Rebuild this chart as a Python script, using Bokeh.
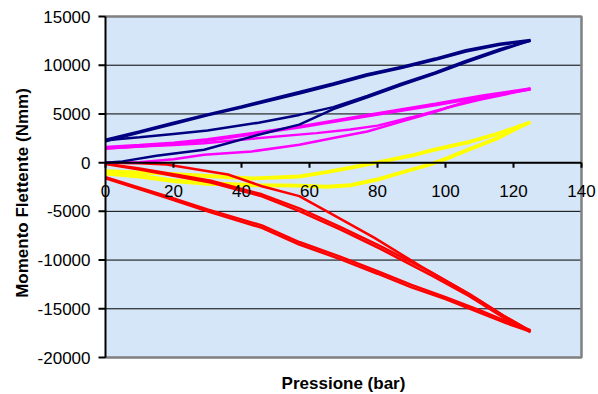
import math
from bokeh.plotting import figure
from bokeh.models import Range1d
from bokeh.core.properties import value
from bokeh.embed import file_html
from bokeh.resources import INLINE

# ---- tick values ----
x_ticks = [0, 20, 40, 60, 80, 100, 120, 140]
y_ticks = [-20000, -15000, -10000, -5000, 0, 5000, 10000, 15000]
x_tick_labels = [str(t) for t in x_ticks]
y_tick_labels = [str(t) for t in y_ticks]
x_title = "Pressione (bar)"
y_title = "Momento Flettente (Nmm)"

# ---- navy series (pressure in bar, moment in Nmm) ----
navy_load1_p = [0, 5, 15, 29, 45, 57, 67, 77, 87, 97, 106, 116, 125]
navy_load1_m = [0, 130, 700, 1330, 2860, 3900, 5500, 6700, 7960, 9150, 10300, 11500, 12550]
navy_unload1_p = [125, 116, 106, 97, 87, 77, 67, 57, 40, 30, 20, 10, 0]
navy_unload1_m = [12600, 12210, 11530, 10680, 9830, 9080, 8130, 7250, 5770, 4950, 4100, 3200, 2350]
navy_load2_p = [0, 10, 20, 30, 45, 57, 67, 77, 87, 97, 106, 116, 125]
navy_load2_m = [2300, 2600, 2950, 3300, 4100, 4900, 5700, 6850, 8100, 9250, 10450, 11650, 12500]
navy_unload2_p = [125, 116, 106, 97, 87, 77, 67, 57, 40, 30, 20, 10, 0]
navy_unload2_m = [12500, 12100, 11400, 10550, 9700, 8950, 8000, 7100, 5650, 4850, 3950, 3100, 2200]

# ---- magenta series ----
mag_load1_p = [0, 10, 20, 29, 43, 57, 67, 77, 87, 97, 106, 116, 125]
mag_load1_m = [0, 50, 350, 800, 1150, 1840, 2520, 3200, 4210, 5230, 6250, 6940, 7600]
mag_unload1_p = [125, 111, 97, 77, 57, 43, 30, 20, 10, 0]
mag_unload1_m = [7600, 6900, 6050, 4900, 3700, 3030, 2400, 2050, 1800, 1600]
mag_load2_p = [0, 10, 20, 29, 43, 62, 72, 80, 90, 100, 110, 125]
mag_load2_m = [1450, 1650, 1800, 2000, 2450, 3030, 3400, 3800, 4650, 5600, 6450, 7550]
mag_unload2_p = [125, 111, 97, 77, 57, 43, 30, 20, 10, 0]
mag_unload2_m = [7500, 6750, 5900, 4750, 3600, 2900, 2250, 1900, 1650, 1450]

# ---- yellow series ----
yel_load1_p = [0, 10, 20, 30, 45, 57, 65, 72, 80, 88, 96, 100, 107, 115, 125]
yel_load1_m = [-1200, -1500, -1950, -2250, -2400, -2420, -2550, -2400, -1800, -1000, -200, 300, 1300, 2400, 4150]
yel_unload1_p = [125, 115, 107, 96, 90, 80, 72, 65, 57, 43, 30, 15, 0]
yel_unload1_m = [4200, 3000, 2200, 1350, 800, 100, -450, -900, -1350, -1560, -1300, -1000, -800]
yel_load2_p = [0, 10, 20, 30, 45, 57, 65, 72, 80, 88, 96, 100, 107, 115, 125]
yel_load2_m = [-1000, -1300, -1750, -2050, -2250, -2300, -2400, -2250, -1650, -850, -50, 450, 1450, 2550, 4100]
yel_unload2_p = [125, 115, 107, 96, 90, 80, 72, 65, 57, 43, 30, 15, 0]
yel_unload2_m = [4100, 2850, 2050, 1200, 650, -50, -600, -1050, -1500, -1700, -1450, -1150, -1000]

# ---- red series ----
red_a_p = [0, 10, 18, 36, 46, 57, 65, 79, 93, 107, 117, 125]
red_a_m = [0, -50, -200, -1220, -2420, -3440, -4970, -7690, -10700, -13500, -15700, -17300]
red_b_p = [0, 10, 20, 31, 46, 57, 69, 81, 96, 107, 117, 125]
red_b_m = [-150, -714, -1350, -2040, -3450, -4970, -6840, -8880, -11600, -13700, -15900, -17400]
red_b2_p = [0, 10, 20, 31, 46, 57, 69, 81, 96, 107, 117, 125]
red_b2_m = [-100, -600, -1200, -1850, -3250, -4700, -6600, -8600, -11300, -13500, -15700, -17300]
red_c_p = [0, 18, 30, 46, 57, 69, 80, 90, 100, 110, 118, 125]
red_c_m = [-1600, -3600, -5000, -6700, -8400, -9900, -11400, -12800, -14000, -15400, -16500, -17350]
red_c2_p = [0, 18, 30, 46, 57, 69, 80, 90, 100, 110, 118, 125]
red_c2_m = [-1500, -3450, -4800, -6450, -8150, -9650, -11150, -12550, -13800, -15150, -16300, -17200]

FONT = "Liberation Sans"
W, H = 598, 394
# plot-area margins in pixels
ML, MR, MT, MB = 105, 17, 16, 37
XMIN, XMAX = x_ticks[0], x_ticks[-1]
YMIN, YMAX = y_ticks[0], y_ticks[-1]
kx = (W - ML - MR) / (XMAX - XMIN)      # px per bar
ky = (H - MT - MB) / (YMAX - YMIN)      # px per Nmm

p = figure(width=W, height=H, output_backend="svg", toolbar_location=None,
           x_axis_type=None, y_axis_type=None, min_border=0,
           x_range=Range1d(XMIN - ML / kx, XMAX + MR / kx),
           y_range=Range1d(YMIN - MB / ky, YMAX + MT / ky))
p.outline_line_color = None
p.background_fill_color = "white"
p.border_fill_color = "white"
p.grid.visible = False

# plot area background
p.quad(left=[XMIN], right=[XMAX], bottom=[YMIN], top=[YMAX],
       fill_color="#d5e6f8", line_color=None)

# horizontal grid lines
p.segment(x0=[XMIN] * len(y_ticks), x1=[XMAX] * len(y_ticks), y0=y_ticks, y1=y_ticks,
          line_color="black", line_width=1)

# grey frame on top, right and bottom
p.line([XMIN, XMAX, XMAX, XMIN], [YMAX, YMAX, YMIN, YMIN], line_color="#808080", line_width=2.5)

# data lines
LW = 2.5
for px_, my_ in [(yel_load1_p, yel_load1_m), (yel_unload1_p, yel_unload1_m),
                 (yel_load2_p, yel_load2_m), (yel_unload2_p, yel_unload2_m)]:
    p.line(px_, my_, line_color="#ffff00", line_width=LW)
for px_, my_ in [(red_a_p, red_a_m), (red_b_p, red_b_m), (red_b2_p, red_b2_m),
                 (red_c_p, red_c_m), (red_c2_p, red_c2_m)]:
    p.line(px_, my_, line_color="#ff0000", line_width=LW)
for px_, my_ in [(mag_load1_p, mag_load1_m), (mag_unload1_p, mag_unload1_m),
                 (mag_load2_p, mag_load2_m), (mag_unload2_p, mag_unload2_m)]:
    p.line(px_, my_, line_color="#ff00ff", line_width=LW)
for px_, my_ in [(navy_load1_p, navy_load1_m), (navy_unload1_p, navy_unload1_m),
                 (navy_load2_p, navy_load2_m), (navy_unload2_p, navy_unload2_m)]:
    p.line(px_, my_, line_color="#000080", line_width=LW)

# y axis: line, outward ticks, labels
p.segment(x0=[XMIN], x1=[XMIN], y0=[YMIN], y1=[YMAX], line_color="black", line_width=2)
p.segment(x0=[XMIN] * len(y_ticks), x1=[XMIN - 7 / kx] * len(y_ticks), y0=y_ticks, y1=y_ticks,
          line_color="black", line_width=2)
p.text(x=[XMIN] * len(y_ticks), y=y_ticks, text=y_tick_labels, x_offset=-15,
       text_align="right", text_baseline="middle", text_font=value(FONT),
       text_font_size=value("17px"), text_color="black")

# x axis on the zero line: line, downward ticks, labels
p.segment(x0=[XMIN], x1=[XMAX], y0=[0], y1=[0], line_color="black", line_width=2)
p.segment(x0=x_ticks, x1=x_ticks, y0=[0] * len(x_ticks), y1=[-5 / ky] * len(x_ticks),
          line_color="black", line_width=2)
p.text(x=x_ticks, y=[0] * len(x_ticks), text=x_tick_labels, y_offset=28,
       text_align="center", text_baseline="middle", text_font=value(FONT),
       text_font_size=value("17px"), text_color="black")

# axis titles
p.text(x=[(XMIN + XMAX) / 2], y=[YMIN], text=[x_title], y_offset=26,
       text_align="center", text_baseline="middle", text_font=value(FONT),
       text_font_style=value("bold"), text_font_size=value("17px"), text_color="black")
p.text(x=[XMIN], y=[(YMIN + YMAX) / 2], text=[y_title], x_offset=-83, y_offset=6,
       angle=math.pi / 2, text_align="center", text_baseline="middle", text_font=value(FONT),
       text_font_style=value("bold"), text_font_size=value("17px"), text_color="black")

open("out.html", "w").write(file_html(p, INLINE))
